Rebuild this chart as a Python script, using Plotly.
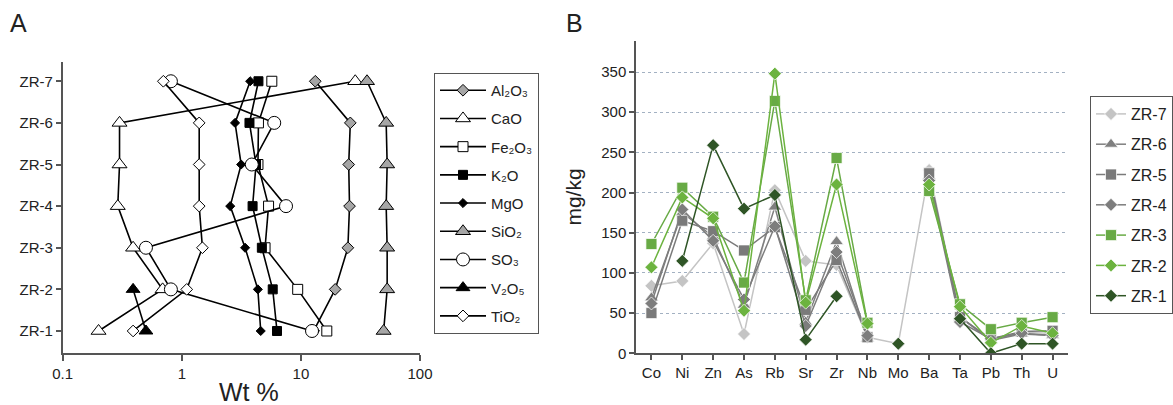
import plotly.graph_objects as go

# ---------------- Panel A data (Wt %) ----------------
samples = ["ZR-1", "ZR-2", "ZR-3", "ZR-4", "ZR-5", "ZR-6", "ZR-7"]
al2o3 = [12.8, 19.4, 24.8, 25.6, 25.2, 26.0, 13.2]
cao = [0.20, 0.69, 0.39, 0.29, 0.30, 0.30, 28.6]
fe2o3 = [16.5, 9.4, 5.0, 5.35, 4.36, 4.4, 5.7]
k2o = [6.3, 5.8, 4.7, 3.93, 4.2, 3.7, 4.4]
mgo = [4.6, 4.35, 3.4, 2.55, 3.15, 2.8, 3.75]
sio2 = [49.5, 53.0, 53.0, 52.0, 53.0, 52.0, 35.9]
so3 = [12.4, 0.81, 0.50, 7.5, 3.87, 5.97, 0.81]
v2o5 = [0.50, 0.39, None, None, None, None, None]
tio2 = [0.39, 1.10, 1.49, 1.40, 1.40, 1.40, 0.70]
wt_ticks = [0.1, 1, 10, 100]
wt_tick_text = ["0.1", "1", "10", "100"]

# ---------------- Panel B data (mg/kg) ----------------
elements = ["Co", "Ni", "Zn", "As", "Rb", "Sr", "Zr", "Nb", "Mo", "Ba", "Ta", "Pb", "Th", "U"]
zr7 = [84, 90, 137, 24, 203, 115, 110, 20, 12, 228, 45, 16, 26, 25]
zr6 = [69, 175, 145, 60, 182, 39, 139, 18, None, 220, 45, 16, 24, 22]
zr5 = [50, 165, 152, 128, 157, 54, 116, 20, None, 224, 45, 18, 27, 28]
zr4 = [62, 179, 140, 67, 158, 34, 126, 22, None, 215, 39, 18, 25, 22]
zr3 = [136, 206, 170, 88, 314, 66, 243, 38, None, 202, 61, 30, 38, 45]
zr2 = [107, 194, 168, 53, 348, 63, 210, 37, None, 210, 58, 13, 34, 25]
zr1 = [None, 115, 259, 180, 197, 17, 71, None, 12, None, 43, 0, 12, 12]
mg_ticks = [0, 50, 100, 150, 200, 250, 300, 350]

FONT = "Liberation Sans, Arial, sans-serif"
W, H = 1173, 405

fig = go.Figure()

# Panel A traces
oxides = [
    ("Al₂O₃", al2o3, "diamond", 9, "#a6a6a6"),
    ("CaO", cao, "triangle-up", 13, "white"),
    ("Fe₂O₃", fe2o3, "square", 10, "white"),
    ("K₂O", k2o, "square", 9, "black"),
    ("MgO", mgo, "diamond", 7, "black"),
    ("SiO₂", sio2, "triangle-up", 13, "#a6a6a6"),
    ("SO₃", so3, "circle", 13, "white"),
    ("V₂O₅", v2o5, "triangle-up", 12, "black"),
    ("TiO₂", tio2, "diamond", 9, "white"),
]
for name, vals, sym, size, fill in oxides:
    fig.add_trace(go.Scatter(
        x=vals, y=samples, name=name, mode="lines+markers",
        xaxis="x", yaxis="y", legend="legend", legendgroup=name,
        line=dict(color="black", width=1.6),
        marker=dict(symbol=sym, size=size, color=fill,
                    line=dict(color="black", width=1)),
        connectgaps=False,
    ))

# Panel B traces
series = [
    ("ZR-7", zr7, "diamond", 10, "#c4c4c4"),
    ("ZR-6", zr6, "triangle-up", 12, "#7f7f7f"),
    ("ZR-5", zr5, "square", 11, "#7a7a7a"),
    ("ZR-4", zr4, "diamond", 10, "#7d7d7d"),
    ("ZR-3", zr3, "square", 11, "#68aa45"),
    ("ZR-2", zr2, "diamond", 10, "#6cb33f"),
    ("ZR-1", zr1, "diamond", 10, "#2f5526"),
]
for name, vals, sym, size, col in series:
    fig.add_trace(go.Scatter(
        x=elements, y=vals, name=name, mode="lines+markers",
        xaxis="x2", yaxis="y2", legend="legend2", legendgroup=name,
        line=dict(color=col, width=1.5),
        marker=dict(symbol=sym, size=size, color=col,
                    line=dict(color="rgba(255,255,255,0.7)", width=1)),
        connectgaps=False,
    ))

ax_col = "#555555"
fig.update_layout(
    width=W, height=H,
    margin=dict(l=0, r=0, t=0, b=0, autoexpand=False),
    paper_bgcolor="white", plot_bgcolor="rgba(0,0,0,0)",
    font=dict(family=FONT, color="#222222"),
    xaxis=dict(
        domain=[62.7 / W, 420 / W], type="log",
        range=[-1, 2], tickvals=wt_ticks, ticktext=wt_tick_text,
        showgrid=False, zeroline=False,
        showline=True, linecolor=ax_col, linewidth=1.5,
        ticks="outside", ticklen=6, tickcolor=ax_col, tickwidth=1.5,
        tickfont=dict(size=15), anchor="y",
    ),
    xaxis3=dict(
        type="log", range=[-1, 2], overlaying="x", anchor="y",
        tickvals=[1, 10], showgrid=True, gridcolor="#c9a08a",
        griddash="dot", gridwidth=1, showticklabels=False, ticks="",
        showline=False, zeroline=False,
    ),
    yaxis=dict(
        domain=[1 - 353.3 / H, 1 - 61.7 / H],
        type="category", categoryorder="array", categoryarray=samples,
        range=[-0.536, 6.47],
        showgrid=False, zeroline=False,
        showline=True, linecolor=ax_col, linewidth=1.5,
        ticks="outside", ticklen=5, tickcolor=ax_col, tickwidth=1.5,
        tickfont=dict(size=15), anchor="x",
    ),
    xaxis2=dict(
        domain=[636 / W, 1068 / W],
        type="category", categoryorder="array", categoryarray=elements,
        range=[-0.5, 13.5],
        showgrid=False, zeroline=False,
        showline=True, linecolor=ax_col, linewidth=1.5,
        ticks="outside", ticklen=5, tickcolor=ax_col, tickwidth=1.5,
        tickfont=dict(size=15), anchor="y2",
    ),
    yaxis2=dict(
        domain=[1 - 353.3 / H, 1 - 40.7 / H],
        range=[0, 389], tickvals=mg_ticks,
        showgrid=True, gridcolor="#a3b1c2", griddash="dot", gridwidth=1,
        zeroline=False,
        showline=True, linecolor=ax_col, linewidth=1.5,
        ticks="outside", ticklen=5, tickcolor=ax_col, tickwidth=1.5,
        tickfont=dict(size=15), anchor="x2",
        title=dict(text="mg/kg", font=dict(size=21), standoff=14),
    ),
    legend=dict(
        x=434 / W, y=1 - 73 / H, xanchor="left", yanchor="top",
        bordercolor="#555555", borderwidth=1, bgcolor="white",
        font=dict(size=15), tracegroupgap=5.7, traceorder="grouped",
        itemwidth=46,
    ),
    legend2=dict(
        x=1090 / W, y=1 - 96 / H, xanchor="left", yanchor="top",
        bordercolor="#555555", borderwidth=1, bgcolor="white",
        font=dict(size=16), tracegroupgap=6.5, traceorder="grouped",
        itemwidth=30,
    ),
    annotations=[
        dict(text="A", x=8 / W, y=1 - 23 / H, xref="paper", yref="paper",
             xanchor="left", yanchor="middle", showarrow=False,
             font=dict(size=25)),
        dict(text="B", x=564 / W, y=1 - 23 / H, xref="paper", yref="paper",
             xanchor="left", yanchor="middle", showarrow=False,
             font=dict(size=25)),
        dict(text="Wt %", x=249 / W, y=1 - 392 / H, xref="paper", yref="paper",
             xanchor="center", yanchor="middle", showarrow=False,
             font=dict(size=25)),
    ],
)

fig.write_html("out.html",
               config={"displayModeBar": False},
               post_script="document.body.style.margin='0';document.body.style.padding='0';")
